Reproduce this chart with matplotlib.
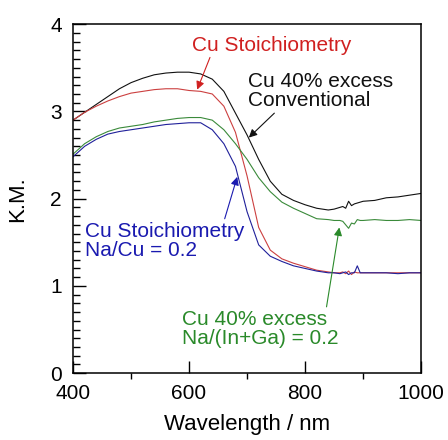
import matplotlib.pyplot as plt
from matplotlib.ticker import MultipleLocator

plt.rcParams['font.family'] = ['Liberation Sans', 'DejaVu Sans']

# Data
wavelength = [400, 420, 440, 460, 480, 500, 520, 540, 560, 580, 600, 620, 640, 660, 680,
              700, 720, 740, 760, 780, 800, 820, 840, 850, 860, 865, 870, 875, 880, 885,
              890, 895, 900, 920, 940, 960, 980, 1000]

km_cu40_conv = [2.90, 2.99, 3.08, 3.17, 3.26, 3.33, 3.38, 3.42, 3.44, 3.45, 3.45, 3.43, 3.37, 3.23, 2.98,
                2.73, 2.45, 2.20, 2.05, 1.98, 1.93, 1.89, 1.87, 1.88, 1.90, 1.91, 1.89, 1.97, 1.92, 1.94,
                1.95, 1.96, 1.97, 1.98, 2.01, 2.02, 2.04, 2.06]

km_stoich = [2.90, 2.99, 3.06, 3.12, 3.17, 3.21, 3.23, 3.25, 3.26, 3.26, 3.24, 3.23, 3.20, 3.06, 2.76,
             2.26, 1.67, 1.41, 1.31, 1.26, 1.22, 1.18, 1.16, 1.15, 1.15, 1.16, 1.14, 1.17, 1.13, 1.16,
             1.15, 1.15, 1.15, 1.15, 1.15, 1.15, 1.15, 1.15]

km_cu40_na = [2.51, 2.63, 2.71, 2.77, 2.81, 2.83, 2.85, 2.88, 2.90, 2.92, 2.93, 2.93, 2.90, 2.79, 2.63,
              2.45, 2.24, 2.08, 1.96, 1.89, 1.83, 1.77, 1.76, 1.75, 1.75, 1.74, 1.70, 1.66, 1.72, 1.71,
              1.76, 1.75, 1.75, 1.76, 1.75, 1.75, 1.76, 1.75]

km_stoich_na = [2.48, 2.60, 2.68, 2.74, 2.77, 2.79, 2.81, 2.83, 2.85, 2.86, 2.87, 2.87, 2.79, 2.63, 2.37,
                1.85, 1.47, 1.34, 1.28, 1.23, 1.20, 1.17, 1.15, 1.15, 1.14, 1.15, 1.16, 1.13, 1.15, 1.15,
                1.23, 1.15, 1.15, 1.15, 1.15, 1.14, 1.15, 1.15]

fig = plt.figure(figsize=(4.48, 4.40), dpi=100)
ax = fig.add_axes([0.163, 0.152, 0.777, 0.793])

ax.plot(wavelength, km_cu40_conv, color='#111111', lw=0.8)
ax.plot(wavelength, km_stoich, color='#cc4040', lw=0.8)
ax.plot(wavelength, km_cu40_na, color='#3a8a3a', lw=0.8)
ax.plot(wavelength, km_stoich_na, color='#20209a', lw=0.8)

ax.set_xlim(400, 1000)
ax.set_ylim(0, 4)

# labels with arrows
arrow = dict(arrowstyle='-|>', lw=0.8, mutation_scale=12, shrinkA=0, shrinkB=0)
ax.annotate('Cu Stoichiometry', xy=(614, 3.25), xytext=(605, 3.76), color='#d02020',
            fontsize=15, va='center', ha='left',
            arrowprops=dict(arrow, color='#d02020', relpos=(0.12, 0.0)))
ax.annotate('Cu 40% excess\nConventional', xy=(703, 2.70), xytext=(702, 3.23), color='#111111',
            fontsize=15, va='center', ha='left', linespacing=1.0,
            arrowprops=dict(arrow, color='#111111', relpos=(0.2, 0.0)))
ax.annotate('Cu Stoichiometry\nNa/Cu = 0.2', xy=(683, 2.25), xytext=(421, 1.52), color='#1a1ab0',
            fontsize=15, va='center', ha='left', linespacing=1.0,
            arrowprops=dict(arrow, color='#1a1ab0', relpos=(0.87, 1.0)))
ax.annotate('Cu 40% excess\nNa/(In+Ga) = 0.2', xy=(859, 1.67), xytext=(588, 0.51), color='#2a8a2a',
            fontsize=15, va='center', ha='left', linespacing=1.0,
            arrowprops=dict(arrow, color='#2a8a2a', relpos=(0.92, 1.0)))

ax.set_xlabel('Wavelength / nm', fontsize=16, labelpad=8)
ax.set_ylabel('K.M.', fontsize=16, labelpad=16)

ax.set_xticks([400, 600, 800, 1000])
ax.xaxis.set_minor_locator(MultipleLocator(100))
ax.yaxis.set_major_locator(MultipleLocator(1))
ax.yaxis.set_minor_locator(MultipleLocator(0.1))
ax.tick_params(axis='x', which='major', direction='in', length=9, width=1.0, labelsize=15, pad=8)
ax.tick_params(axis='x', which='minor', direction='out', length=4, width=1.0)
ax.tick_params(axis='y', which='major', direction='in', length=9, width=1.0, labelsize=15, pad=8)
ax.tick_params(axis='y', which='minor', direction='in', length=5, width=1.0)

for s in ax.spines.values():
    s.set_linewidth(1.1)

plt.savefig('out.png', dpi=100)
